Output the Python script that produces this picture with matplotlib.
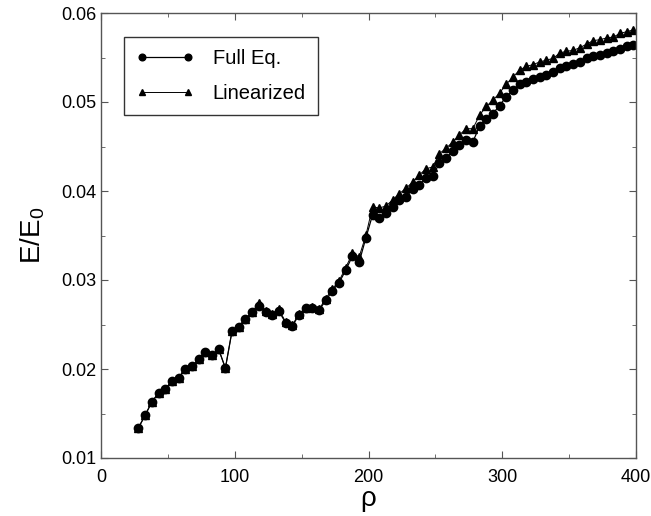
import matplotlib
matplotlib.use("Agg")
import matplotlib.pyplot as plt
from matplotlib.ticker import MultipleLocator

plt.rcParams['font.family'] = ['Liberation Sans', 'DejaVu Sans']
plt.rcParams['mathtext.fontset'] = 'custom'
plt.rcParams['mathtext.rm'] = 'Liberation Sans'

rho = [28, 33, 38, 43, 48, 53, 58, 63, 68, 73, 78, 83, 88, 93, 98,
       103, 108, 113, 118, 123, 128, 133, 138, 143, 148, 153, 158, 163, 168, 173,
       178, 183, 188, 193, 198, 203, 208, 213, 218, 223, 228, 233, 238, 243, 248,
       253, 258, 263, 268, 273, 278, 283, 288, 293, 298, 303, 308, 313, 318, 323,
       328, 333, 338, 343, 348, 353, 358, 363, 368, 373, 378, 383, 388, 393, 398]

full_eq = [0.0134, 0.0148, 0.0163, 0.0173, 0.0178, 0.0186, 0.0190, 0.0200, 0.0203, 0.0211,
           0.0219, 0.0216, 0.0222, 0.0201, 0.0243, 0.0247, 0.0256, 0.0264, 0.0271, 0.0264,
           0.0261, 0.0265, 0.0252, 0.0248, 0.0261, 0.0268, 0.0269, 0.0266, 0.0277, 0.0288,
           0.0297, 0.0311, 0.0327, 0.0320, 0.0347, 0.0373, 0.0370, 0.0375, 0.0382, 0.0390,
           0.0393, 0.0402, 0.0407, 0.0415, 0.0417, 0.0431, 0.0437, 0.0445, 0.0452, 0.0457,
           0.0455, 0.0473, 0.0481, 0.0487, 0.0496, 0.0506, 0.0513, 0.0520, 0.0523, 0.0526,
           0.0528, 0.0530, 0.0534, 0.0538, 0.0540, 0.0543, 0.0545, 0.0549, 0.0552, 0.0553,
           0.0555, 0.0557, 0.0560, 0.0563, 0.0564]

linearized = [0.0134, 0.0148, 0.0163, 0.0173, 0.0178, 0.0186, 0.0190, 0.0200, 0.0203, 0.0211,
              0.0219, 0.0216, 0.0222, 0.0201, 0.0243, 0.0247, 0.0256, 0.0264, 0.0274, 0.0265,
              0.0262, 0.0267, 0.0253, 0.0249, 0.0262, 0.0269, 0.0270, 0.0267, 0.0279, 0.0290,
              0.0299, 0.0314, 0.0330, 0.0326, 0.0350, 0.0382, 0.0381, 0.0383, 0.0390, 0.0397,
              0.0403, 0.0410, 0.0418, 0.0425, 0.0427, 0.0442, 0.0448, 0.0455, 0.0463, 0.0470,
              0.0470, 0.0485, 0.0495, 0.0502, 0.0510, 0.0520, 0.0528, 0.0536, 0.0540, 0.0542,
              0.0545, 0.0547, 0.0549, 0.0555, 0.0557, 0.0558, 0.0561, 0.0565, 0.0569, 0.0570,
              0.0572, 0.0573, 0.0577, 0.0579, 0.0581]

fig = plt.figure(figsize=(6.51, 5.16), dpi=100)
ax = fig.add_axes([101 / 651, 1 - 458 / 516, 535 / 651, 445 / 516])

ax.plot(rho, full_eq, color='black', lw=0.9, marker='o', ms=6,
        mfc='black', mec='black', label='Full Eq.')
ax.plot(rho, linearized, color='black', lw=0.7, marker='^', ms=6,
        mfc='black', mec='black', label='Linearized')

ax.set_xlim(0, 400)
ax.set_ylim(0.01, 0.06)
ax.xaxis.set_major_locator(MultipleLocator(100))
ax.xaxis.set_minor_locator(MultipleLocator(50))
ax.yaxis.set_major_locator(MultipleLocator(0.01))
ax.yaxis.set_minor_locator(MultipleLocator(0.005))
ax.yaxis.set_major_formatter(plt.FormatStrFormatter('%.2f'))

for sp in ax.spines.values():
    sp.set_color('#555555')
    sp.set_linewidth(1.0)
ax.tick_params(which='both', direction='in', top=True, right=True,
               colors='#555555', labelcolor='black', labelsize=13)
ax.tick_params(which='major', length=5)
ax.tick_params(which='minor', length=3)
ax.tick_params(axis='x', pad=8)

ax.set_xlabel('ρ', fontsize=20, labelpad=0)
ax.set_ylabel(r'E/E$_\mathrm{0}$', fontsize=20, labelpad=10)

leg = ax.legend(loc='upper left', bbox_to_anchor=(0.043, 0.946), borderaxespad=0,
                fontsize=14.5, numpoints=2, handlelength=2.9, handletextpad=0.9,
                labelspacing=0.8, borderpad=0.6, fancybox=False, markerscale=0.8)
leg.get_frame().set_edgecolor('black')
leg.get_frame().set_linewidth(1.0)

fig.savefig('out.png', dpi=100)
